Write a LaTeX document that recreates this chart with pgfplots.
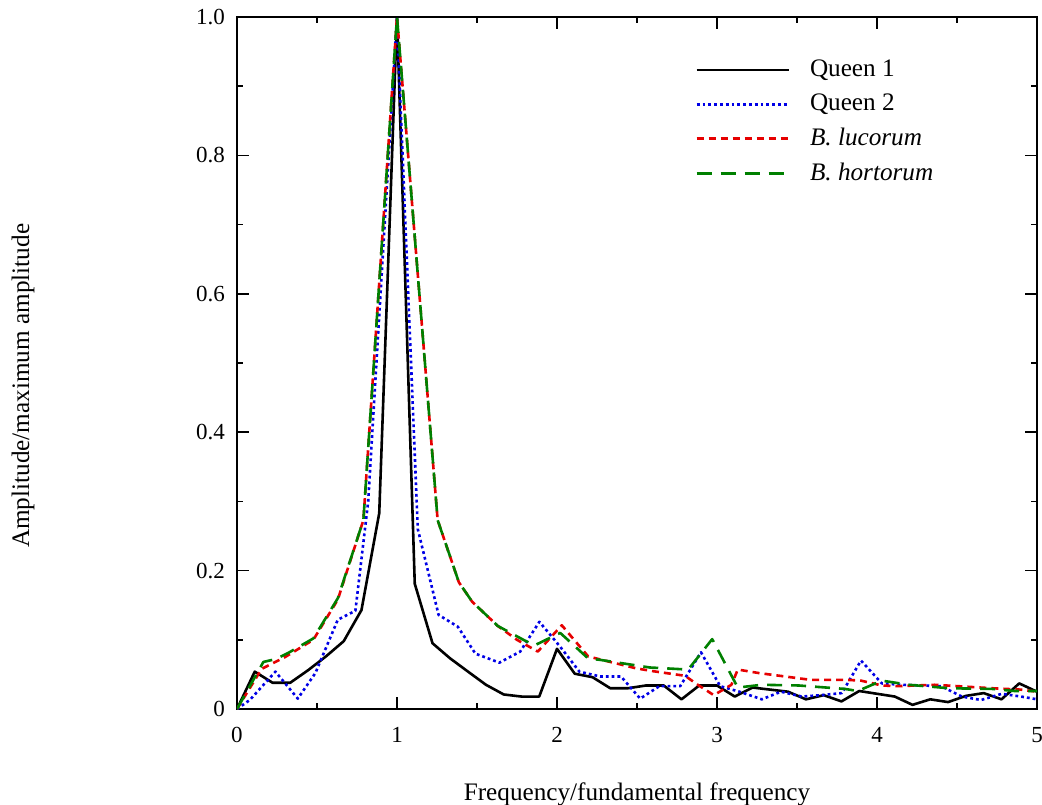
\documentclass[border=0pt]{standalone}
\usepackage{pgfplots}
\pgfplotsset{compat=1.18}
\usepackage{fontspec}
\setmainfont{Liberation Serif}

\definecolor{qblue}{RGB}{0,0,230}
\definecolor{lred}{RGB}{230,0,0}
\definecolor{hgreen}{RGB}{0,128,0}

\begin{document}
\fontsize{11.5}{14}\selectfont
\begin{tikzpicture}
\begin{axis}[
    scale only axis,
    width=400pt, height=346pt,
    xmin=0, xmax=5, ymin=0, ymax=1,
    axis line style={line width=1pt},
    xtick={0,1,2,3,4,5},
    minor xtick={0.5,1.5,2.5,3.5,4.5},
    ytick={0,0.2,0.4,0.6,0.8,1.0},
    yticklabels={0,0.2,0.4,0.6,0.8,1.0},
    minor ytick={0.1,0.3,0.5,0.7,0.9},
    tick align=inside,
    tick pos=both,
    major tick length=6pt,
    minor tick length=3pt,
    every tick/.style={black, line width=0.8pt},
    /pgf/number format/assume math mode=true,
    xticklabel style={yshift=-5pt},
    yticklabel style={xshift=-2pt},
    xlabel={Frequency/fundamental frequency},
    ylabel={Amplitude/maximum amplitude},
    label style={font=\fontsize{12.6}{15}\selectfont},
    xlabel style={at={(axis description cs:0.5,0)}, anchor=base, yshift=-45.5pt},
    ylabel style={at={(axis description cs:0,0.467)}, anchor=center, yshift=107pt},
    legend cell align=left,
    legend style={draw=none, fill=none, at={(rel axis cs:0.565,0.95)}, anchor=north west,
        row sep=3pt, font=\fontsize{12.6}{15}\selectfont},
    legend image code/.code={\draw[#1, line width=1.3pt] (0pt,0pt) -- (46pt,0pt); \path (54pt,0pt);},
    every axis plot/.append style={line width=1.3pt, line join=round},
]
\addplot[black] coordinates {
(0,0) (0.111,0.054) (0.222,0.038) (0.333,0.038) (0.444,0.056) (0.556,0.076)
(0.667,0.098) (0.778,0.143) (0.889,0.283) (1.0,1.0) (1.111,0.181) (1.222,0.095)
(1.333,0.073) (1.444,0.054) (1.556,0.035) (1.667,0.021) (1.778,0.018) (1.889,0.018)
(2.0,0.087) (2.111,0.051) (2.222,0.046) (2.333,0.030) (2.444,0.030) (2.556,0.034)
(2.667,0.034) (2.778,0.014) (2.889,0.034) (3.0,0.034) (3.111,0.018) (3.222,0.031)
(3.333,0.028) (3.444,0.025) (3.556,0.014) (3.667,0.020) (3.778,0.011) (3.889,0.026)
(4.0,0.022) (4.111,0.018) (4.222,0.006) (4.333,0.014) (4.444,0.010) (4.556,0.019)
(4.667,0.023) (4.778,0.014) (4.889,0.037) (5.0,0.025)
};
\addplot[qblue, dash pattern=on 1.4pt off 1.5pt] coordinates {
(0,0) (0.08,0.013) (0.24,0.054) (0.38,0.015) (0.49,0.052) (0.63,0.129)
(0.74,0.142) (0.82,0.30) (1.0,1.0) (1.13,0.26) (1.26,0.136) (1.38,0.119)
(1.49,0.080) (1.64,0.067) (1.77,0.083) (1.89,0.126) (2.02,0.090) (2.14,0.054)
(2.27,0.047) (2.40,0.047) (2.52,0.015) (2.64,0.033) (2.77,0.033) (2.90,0.082)
(3.02,0.033) (3.14,0.025) (3.28,0.014) (3.40,0.025) (3.53,0.018) (3.65,0.020)
(3.78,0.023) (3.90,0.070) (4.03,0.037) (4.15,0.035) (4.28,0.034) (4.40,0.033)
(4.53,0.018) (4.65,0.013) (4.78,0.022) (4.90,0.018) (5.0,0.014)
};
\addplot[lred, dash pattern=on 3.5pt off 2.5pt] coordinates {
(0,0) (0.154,0.058) (0.30,0.075) (0.477,0.100) (0.63,0.158) (0.79,0.273)
(1.0,1.0) (1.254,0.273) (1.387,0.183) (1.47,0.155) (1.63,0.120) (1.75,0.100)
(1.88,0.083) (2.03,0.121) (2.195,0.076) (2.49,0.059) (2.59,0.055) (2.80,0.048)
(2.88,0.035) (2.98,0.020) (3.09,0.035) (3.13,0.057) (3.26,0.052) (3.59,0.042)
(3.82,0.042) (3.90,0.041) (4.03,0.034) (4.13,0.033) (4.36,0.035) (4.72,0.030)
(4.9,0.028) (5.0,0.025)
};
\addplot[hgreen, dash pattern=on 7.5pt off 4.5pt] coordinates {
(0,0) (0.165,0.068) (0.24,0.072) (0.32,0.081) (0.477,0.102) (0.63,0.16)
(0.79,0.273) (1.0,1.0) (1.254,0.273) (1.387,0.183) (1.47,0.155) (1.63,0.120)
(1.79,0.100) (1.86,0.092) (2.02,0.110) (2.195,0.073) (2.27,0.071) (2.58,0.060)
(2.82,0.057) (2.97,0.101) (3.13,0.031) (3.28,0.035) (3.51,0.034) (3.80,0.029)
(3.88,0.026) (4.03,0.041) (4.2,0.035) (4.45,0.030) (4.72,0.029) (4.86,0.026)
(5.0,0.026)
};
\legend{Queen 1, Queen 2, \textit{B. lucorum}, \textit{B. hortorum}}
\end{axis}
\pgfresetboundingbox
\path (-118.5pt,-47.5pt) rectangle (402.5pt,354.5pt);
\end{tikzpicture}
\end{document}
